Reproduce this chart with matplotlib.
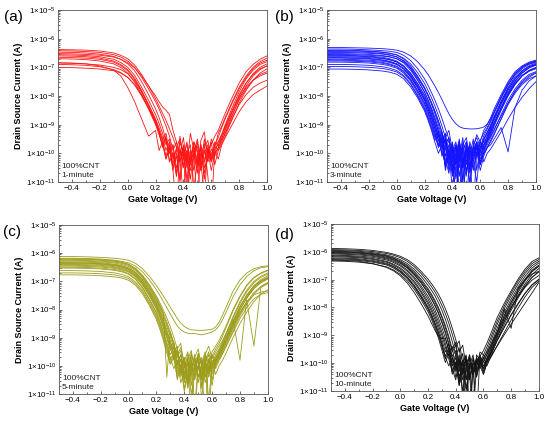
import numpy as np
import matplotlib
matplotlib.use('Agg')
import matplotlib.pyplot as plt
from matplotlib.ticker import FixedLocator, LogLocator, NullFormatter

plt.rcParams['font.family'] = ['Liberation Sans', 'DejaVu Sans']
plt.rcParams['mathtext.fontset'] = 'custom'
plt.rcParams['mathtext.rm'] = 'Liberation Sans'
plt.rcParams['mathtext.it'] = 'Liberation Sans'

# gate voltage sweep (V)
gate_v = [-0.5, -0.4, -0.3, -0.2, -0.1, -0.05, 0.0, 0.05, 0.1, 0.15, 0.2,
          0.225, 0.25, 0.275, 0.3, 0.325, 0.35, 0.375, 0.4, 0.425, 0.45,
          0.475, 0.5, 0.525, 0.55, 0.575, 0.6, 0.625, 0.65, 0.675, 0.7,
          0.75, 0.8, 0.85, 0.9, 0.95, 1.0]

# log10 of drain-source current (A)
logi_1min = [
    [-6.38,-6.39,-6.40,-6.43,-6.50,-6.58,-6.70,-6.92,-7.25,-7.65,-8.10,-8.35,-8.60,-8.85,-9.15,-9.45,-9.80,-9.50,-10.1,-9.70,-10.4,-9.60,-9.90,-10.6,-9.50,-10.0,-9.70,-9.40,-9.20,-8.90,-8.60,-8.05,-7.55,-7.15,-6.90,-6.72,-6.60],
    [-6.42,-6.43,-6.45,-6.48,-6.56,-6.64,-6.78,-7.00,-7.35,-7.75,-8.20,-8.45,-8.75,-9.05,-9.40,-9.90,-9.60,-10.3,-9.80,-11.2,-9.90,-10.2,-9.60,-10.5,-9.80,-9.55,-10.2,-9.70,-9.45,-9.10,-8.80,-8.25,-7.75,-7.35,-7.05,-6.85,-6.75],
    [-6.47,-6.48,-6.50,-6.54,-6.62,-6.72,-6.88,-7.12,-7.50,-7.95,-8.45,-8.75,-9.10,-9.55,-10.0,-9.70,-10.8,-9.40,-10.2,-9.90,-10.9,-10.0,-9.50,-10.3,-11.5,-9.80,-10.1,-9.60,-9.75,-9.35,-9.00,-8.40,-7.85,-7.40,-7.10,-6.90,-6.80],
    [-6.52,-6.53,-6.55,-6.58,-6.64,-6.72,-6.84,-7.02,-7.30,-7.65,-8.00,-8.20,-8.38,-8.50,-8.65,-9.20,-9.60,-10.0,-9.45,-10.4,-9.30,-9.90,-10.7,-9.55,-9.25,-10.2,-9.50,-9.80,-9.30,-9.05,-8.75,-8.20,-7.70,-7.30,-7.00,-6.80,-6.68],
    [-6.56,-6.57,-6.59,-6.63,-6.72,-6.83,-7.00,-7.28,-7.70,-8.15,-8.65,-8.95,-9.30,-9.70,-9.50,-10.2,-9.85,-11.0,-10.1,-9.60,-10.4,-9.90,-12.0,-9.70,-10.3,-9.90,-10.6,-10.0,-9.80,-9.50,-9.15,-8.55,-8.00,-7.55,-7.22,-7.00,-6.88],
    [-6.60,-6.61,-6.63,-6.68,-6.78,-6.90,-7.08,-7.38,-7.80,-8.30,-8.85,-9.20,-9.60,-10.1,-9.70,-10.6,-12.0,-9.90,-10.5,-10.0,-9.70,-11.2,-10.3,-9.80,-10.9,-10.0,-9.60,-10.4,-9.90,-9.60,-9.30,-8.70,-8.10,-7.65,-7.30,-7.08,-6.95],
    [-6.65,-6.66,-6.68,-6.72,-6.82,-6.94,-7.12,-7.42,-7.85,-8.35,-8.90,-9.25,-9.80,-9.40,-10.3,-9.95,-10.7,-9.60,-10.0,-12.0,-10.2,-9.70,-10.5,-10.1,-9.65,-10.8,-12.0,-9.90,-10.2,-9.70,-9.40,-8.80,-8.25,-7.80,-7.45,-7.20,-7.05],
    [-6.70,-6.71,-6.73,-6.78,-6.88,-7.00,-7.20,-7.52,-7.95,-8.45,-9.00,-9.35,-9.70,-10.2,-9.80,-10.5,-10.1,-10.9,-9.75,-10.3,-9.90,-10.6,-10.0,-12.0,-10.2,-9.80,-10.3,-9.95,-9.60,-9.35,-9.05,-8.50,-7.95,-7.55,-7.25,-7.05,-6.95],
    [-6.85,-6.86,-6.88,-6.92,-7.00,-7.08,-7.22,-7.48,-7.85,-8.30,-8.80,-9.10,-9.45,-9.90,-9.60,-10.4,-9.80,-10.2,-11.5,-9.90,-10.6,-10.0,-9.75,-10.4,-10.0,-9.70,-10.2,-9.85,-9.70,-9.45,-9.20,-8.65,-8.15,-7.75,-7.45,-7.25,-7.15],
    [-6.90,-6.91,-6.93,-6.98,-7.08,-7.18,-7.35,-7.62,-8.00,-8.45,-8.95,-9.30,-9.75,-9.50,-10.3,-10.0,-10.8,-9.85,-10.4,-10.1,-12.0,-9.90,-10.3,-9.70,-10.5,-10.2,-9.85,-10.1,-9.80,-9.55,-9.30,-8.80,-8.30,-7.95,-7.70,-7.55,-7.45],
    [-6.84,-6.85,-6.88,-6.95,-7.10,-7.30,-7.70,-8.20,-8.80,-9.40,-9.20,-9.90,-9.60,-10.2,-9.80,-10.6,-10.0,-10.3,-9.70,-10.5,-10.1,-9.80,-10.4,-10.0,-10.7,-9.90,-10.3,-9.70,-9.60,-9.35,-9.10,-8.55,-8.05,-7.70,-7.45,-7.30,-7.20],
    [-7.00,-7.01,-7.03,-7.06,-7.12,-7.20,-7.35,-7.60,-7.95,-8.40,-8.90,-9.20,-9.55,-9.30,-10.0,-9.70,-10.5,-10.1,-9.80,-10.9,-10.2,-9.60,-10.0,-10.6,-9.90,-10.3,-10.0,-9.75,-9.90,-9.70,-9.45,-9.00,-8.55,-8.20,-7.95,-7.80,-7.65],
]

logi_3min = [
    [-6.31,-6.31,-6.32,-6.33,-6.35,-6.37,-6.40,-6.47,-6.60,-6.80,-7.08,-7.25,-7.45,-7.66,-7.88,-8.12,-8.38,-8.62,-8.82,-8.97,-9.07,-9.12,-9.14,-9.15,-9.15,-9.14,-9.12,-9.08,-8.98,-8.80,-8.55,-8.02,-7.55,-7.20,-6.98,-6.85,-6.77],
    [-6.36,-6.36,-6.37,-6.39,-6.42,-6.44,-6.48,-6.58,-6.76,-7.04,-7.40,-7.62,-7.88,-8.15,-8.45,-8.78,-9.15,-9.50,-9.90,-9.60,-10.3,-9.70,-9.45,-10.1,-9.80,-9.35,-9.60,-9.20,-9.00,-8.75,-8.45,-7.95,-7.50,-7.15,-6.95,-6.82,-6.75],
    [-6.42,-6.42,-6.43,-6.45,-6.48,-6.51,-6.56,-6.68,-6.88,-7.18,-7.56,-7.80,-8.06,-8.35,-8.68,-9.05,-9.45,-9.20,-9.90,-10.4,-9.60,-10.0,-10.6,-9.85,-10.2,-9.70,-9.95,-9.50,-9.30,-9.05,-8.75,-8.20,-7.70,-7.32,-7.05,-6.90,-6.82],
    [-6.48,-6.48,-6.49,-6.51,-6.54,-6.58,-6.64,-6.77,-6.99,-7.31,-7.70,-7.95,-8.22,-8.52,-8.86,-9.25,-9.70,-9.45,-10.3,-9.70,-11.5,-9.90,-9.60,-10.5,-9.75,-10.1,-9.60,-9.85,-9.55,-9.25,-8.95,-8.40,-7.90,-7.50,-7.20,-7.02,-6.92],
    [-6.52,-6.52,-6.53,-6.55,-6.59,-6.63,-6.70,-6.85,-7.10,-7.45,-7.86,-8.12,-8.42,-8.75,-9.12,-9.55,-9.30,-10.2,-9.85,-12.0,-9.70,-10.3,-10.8,-9.60,-10.0,-9.75,-10.4,-9.70,-9.40,-9.10,-8.80,-8.25,-7.78,-7.40,-7.12,-6.95,-6.85],
    [-6.55,-6.55,-6.56,-6.58,-6.61,-6.64,-6.70,-6.82,-7.04,-7.36,-7.74,-7.98,-8.26,-8.56,-8.90,-9.28,-9.70,-9.45,-10.5,-9.85,-10.1,-9.45,-10.7,-10.0,-12.0,-9.90,-9.55,-9.30,-9.10,-8.85,-8.55,-8.05,-7.60,-7.25,-7.00,-6.88,-6.80],
    [-6.60,-6.60,-6.61,-6.63,-6.68,-6.73,-6.81,-6.98,-7.26,-7.64,-8.08,-8.36,-8.68,-9.05,-9.45,-9.25,-10.1,-9.70,-10.6,-10.0,-9.50,-11.0,-9.80,-10.2,-10.5,-10.0,-9.65,-9.90,-9.60,-9.35,-9.05,-8.50,-8.00,-7.60,-7.30,-7.12,-7.02],
    [-6.63,-6.63,-6.64,-6.66,-6.70,-6.74,-6.81,-6.96,-7.20,-7.55,-7.96,-8.22,-8.52,-8.86,-9.25,-9.70,-9.45,-10.3,-9.80,-10.6,-10.0,-12.0,-9.85,-10.4,-9.90,-9.60,-10.1,-9.75,-9.40,-9.15,-8.85,-8.30,-7.85,-7.48,-7.20,-7.02,-6.92],
    [-6.68,-6.68,-6.69,-6.71,-6.76,-6.81,-6.89,-7.06,-7.34,-7.72,-8.16,-8.45,-8.78,-9.15,-9.55,-9.35,-10.4,-9.90,-11.3,-10.1,-9.60,-10.5,-10.0,-11.0,-10.2,-9.80,-10.3,-9.95,-9.70,-9.45,-9.20,-8.65,-8.15,-7.75,-7.45,-7.25,-7.15],
    [-6.72,-6.72,-6.73,-6.75,-6.79,-6.83,-6.90,-7.05,-7.30,-7.66,-8.08,-8.35,-8.66,-9.00,-9.38,-9.80,-9.55,-10.2,-9.70,-10.8,-9.90,-10.4,-9.60,-10.1,-9.50,-10.6,-9.80,-9.50,-9.25,-9.00,-8.70,-8.18,-7.72,-7.38,-7.12,-6.98,-6.90],
    [-6.78,-6.78,-6.79,-6.81,-6.86,-6.91,-6.99,-7.16,-7.44,-7.82,-8.26,-8.55,-8.88,-9.26,-9.70,-9.45,-10.6,-10.0,-9.70,-10.9,-10.2,-9.80,-12.0,-9.90,-10.2,-9.70,-10.0,-9.75,-9.55,-9.30,-9.00,-8.45,-7.95,-7.58,-7.30,-7.12,-7.02],
    [-6.82,-6.82,-6.83,-6.85,-6.90,-6.95,-7.03,-7.20,-7.48,-7.88,-8.34,-8.64,-8.98,-9.38,-9.80,-9.55,-10.5,-9.90,-10.2,-11.5,-9.85,-10.3,-9.90,-10.7,-10.1,-9.80,-10.4,-10.0,-9.80,-9.55,-9.30,-8.80,-8.30,-7.90,-7.60,-7.40,-7.30],
    [-6.90,-6.90,-6.91,-6.93,-6.98,-7.03,-7.11,-7.28,-7.56,-7.96,-8.42,-8.72,-9.06,-9.45,-9.25,-9.95,-10.4,-9.80,-10.7,-10.0,-9.65,-10.3,-9.95,-10.6,-10.0,-9.70,-10.2,-9.90,-9.60,-9.40,-9.15,-8.70,-8.25,-7.85,-7.55,-7.35,-7.20],
    [-6.97,-6.97,-6.98,-7.00,-7.04,-7.09,-7.16,-7.32,-7.60,-8.00,-8.46,-8.78,-9.14,-9.55,-9.35,-10.1,-9.80,-10.6,-10.2,-9.75,-12.0,-10.3,-9.90,-10.5,-9.80,-10.1,-9.85,-10.3,-10.0,-9.85,-9.65,-9.25,-8.80,-8.40,-8.05,-7.75,-7.50],
    [-7.06,-7.06,-7.07,-7.09,-7.13,-7.17,-7.24,-7.40,-7.68,-8.06,-8.52,-8.84,-9.20,-9.62,-10.0,-9.70,-10.4,-9.90,-10.8,-10.2,-9.85,-10.5,-10.0,-9.70,-10.3,-9.95,-10.6,-10.1,-9.80,-9.60,-9.35,-8.80,-8.25,-7.82,-7.50,-7.30,-7.18],
    [-6.45,-6.45,-6.46,-6.48,-6.52,-6.56,-6.63,-6.78,-7.04,-7.42,-7.86,-8.14,-8.46,-8.82,-9.22,-9.65,-9.35,-10.1,-9.60,-10.4,-9.80,-11.0,-9.70,-10.2,-9.90,-9.60,-10.4,-10.0,-9.80,-9.70,-9.50,-9.10,-9.95,-8.40,-7.80,-7.48,-7.30],
    [-6.40,-6.40,-6.41,-6.43,-6.47,-6.51,-6.57,-6.71,-6.95,-7.30,-7.72,-7.98,-8.28,-8.62,-9.00,-9.42,-9.85,-9.55,-10.2,-9.75,-10.5,-9.60,-9.95,-11.2,-9.70,-9.45,-9.80,-9.40,-9.15,-8.90,-8.60,-8.08,-7.62,-7.25,-7.00,-6.86,-6.78],
    [-6.58,-6.58,-6.59,-6.61,-6.65,-6.70,-6.78,-6.94,-7.21,-7.58,-8.00,-8.28,-8.60,-8.96,-9.36,-9.80,-9.50,-10.4,-10.0,-9.70,-10.8,-9.90,-10.3,-9.75,-10.1,-9.60,-9.90,-9.55,-9.30,-9.05,-8.78,-8.25,-7.78,-7.42,-7.15,-6.98,-6.88],
    [-6.66,-6.66,-6.67,-6.69,-6.74,-6.79,-6.87,-7.04,-7.32,-7.70,-8.14,-8.43,-8.76,-9.14,-9.56,-10.0,-9.70,-10.5,-9.85,-12.0,-10.1,-9.75,-10.4,-9.90,-10.6,-10.0,-9.80,-9.60,-9.45,-9.20,-8.95,-8.42,-7.95,-7.58,-7.30,-7.14,-7.05],
    [-6.75,-6.75,-6.76,-6.78,-6.83,-6.88,-6.96,-7.13,-7.41,-7.80,-8.25,-8.55,-8.90,-9.30,-9.75,-9.45,-10.2,-10.7,-9.90,-10.3,-9.70,-10.5,-10.0,-9.80,-10.3,-11.0,-9.90,-9.70,-9.50,-9.22,-8.95,-8.40,-7.92,-7.55,-7.28,-7.10,-7.00],
]

logi_5min = [
    [-6.12,-6.12,-6.13,-6.15,-6.18,-6.21,-6.25,-6.36,-6.55,-6.82,-7.15,-7.33,-7.52,-7.72,-7.92,-8.12,-8.32,-8.48,-8.60,-8.68,-8.72,-8.73,-8.74,-8.74,-8.73,-8.72,-8.70,-8.62,-8.45,-8.20,-7.92,-7.35,-6.95,-6.70,-6.55,-6.48,-6.45],
    [-6.18,-6.18,-6.19,-6.21,-6.25,-6.29,-6.34,-6.46,-6.66,-6.95,-7.30,-7.50,-7.72,-7.94,-8.16,-8.38,-8.58,-8.72,-8.80,-8.84,-8.86,-8.85,-8.88,-8.90,-8.87,-8.84,-8.80,-8.72,-8.58,-8.36,-8.10,-7.55,-7.12,-6.82,-6.62,-6.52,-6.48],
    [-6.22,-6.22,-6.23,-6.25,-6.29,-6.33,-6.40,-6.54,-6.78,-7.12,-7.52,-7.76,-8.02,-8.30,-8.62,-8.98,-9.40,-9.20,-10.1,-9.60,-9.85,-10.4,-9.55,-9.90,-9.50,-10.2,-9.65,-9.40,-9.20,-8.95,-8.65,-8.05,-7.55,-7.15,-6.88,-6.72,-6.62],
    [-6.25,-6.25,-6.26,-6.28,-6.32,-6.36,-6.43,-6.58,-6.84,-7.20,-7.62,-7.88,-8.16,-10.4,-8.80,-9.20,-9.95,-9.60,-10.5,-9.80,-9.45,-10.2,-9.70,-10.8,-9.60,-9.90,-9.50,-9.30,-9.10,-8.85,-8.58,-8.00,-7.52,-7.12,-6.86,-6.70,-6.60],
    [-6.28,-6.28,-6.29,-6.31,-6.35,-6.40,-6.47,-6.62,-6.88,-7.24,-7.66,-7.92,-8.20,-8.52,-8.86,-9.25,-9.70,-9.45,-10.3,-9.75,-12.0,-9.90,-9.60,-10.4,-9.85,-9.50,-10.0,-9.70,-9.45,-9.20,-8.90,-8.30,-7.78,-7.36,-7.05,-6.86,-6.74],
    [-6.31,-6.31,-6.32,-6.34,-6.39,-6.44,-6.52,-6.68,-6.96,-7.34,-7.78,-8.06,-8.38,-8.72,-9.10,-9.55,-9.30,-10.2,-9.80,-10.6,-9.55,-10.0,-9.70,-11.2,-9.90,-10.3,-9.60,-9.85,-9.55,-9.30,-9.02,-8.45,-7.92,-7.48,-7.15,-6.94,-6.80],
    [-6.34,-6.34,-6.35,-6.37,-6.41,-6.46,-6.53,-6.68,-6.94,-7.30,-7.72,-7.99,-8.28,-8.60,-8.96,-9.38,-9.85,-9.60,-10.4,-9.85,-10.1,-9.60,-10.6,-10.0,-9.70,-12.0,-9.95,-9.60,-9.40,-9.15,-8.85,-8.25,-7.72,-7.30,-7.00,-6.82,-6.70],
    [-6.37,-6.37,-6.38,-6.40,-6.45,-6.50,-6.58,-6.75,-7.03,-7.42,-7.86,-8.14,-8.46,-8.82,-9.22,-9.70,-9.45,-10.4,-10.0,-9.70,-10.7,-10.1,-9.80,-10.3,-9.90,-9.60,-10.5,-9.90,-9.65,-9.40,-9.12,-8.55,-8.02,-7.58,-7.25,-7.04,-6.90],
    [-6.40,-6.40,-6.41,-6.43,-6.48,-6.53,-6.61,-6.78,-7.06,-7.45,-7.90,-8.20,-8.54,-8.92,-9.35,-9.15,-10.0,-9.75,-10.6,-10.1,-9.60,-11.5,-9.90,-10.2,-9.70,-10.4,-10.0,-9.75,-9.55,-9.30,-9.02,-8.45,-7.92,-7.50,-7.18,-6.98,-6.85],
    [-6.43,-6.43,-6.44,-6.46,-6.51,-6.56,-6.64,-6.81,-7.10,-7.50,-7.95,-8.25,-8.58,-8.95,-9.36,-9.80,-9.55,-10.3,-9.85,-10.8,-10.2,-9.70,-10.4,-9.95,-12.0,-9.80,-10.2,-9.85,-9.60,-9.35,-9.08,-8.52,-8.00,-7.58,-7.26,-7.05,-6.92],
    [-6.46,-6.46,-6.47,-6.49,-6.54,-6.59,-6.67,-6.84,-7.12,-7.52,-7.98,-8.29,-8.64,-9.02,-9.45,-9.25,-10.1,-9.80,-10.5,-9.90,-10.3,-10.0,-9.70,-10.7,-10.2,-9.85,-9.60,-10.1,-9.80,-9.55,-9.30,-8.75,-8.22,-7.80,-7.46,-7.22,-7.08],
    [-6.50,-6.50,-6.51,-6.53,-6.58,-6.63,-6.72,-6.90,-7.20,-7.62,-8.08,-8.40,-8.76,-9.16,-9.60,-9.35,-10.2,-9.95,-10.9,-10.3,-9.80,-10.5,-10.1,-9.70,-10.4,-10.0,-10.7,-9.90,-9.70,-9.45,-9.20,-8.65,-8.15,-7.72,-7.40,-7.18,-7.04],
    [-6.53,-6.53,-6.54,-6.56,-6.61,-6.66,-6.75,-6.93,-7.24,-7.66,-8.14,-8.46,-8.84,-9.25,-9.70,-10.1,-9.80,-10.6,-10.2,-9.85,-11.0,-10.3,-10.0,-10.5,-9.90,-10.2,-9.85,-10.3,-10.0,-9.80,-9.55,-9.00,-8.50,-8.08,-7.72,-7.45,-7.30],
    [-6.62,-6.62,-6.63,-6.65,-6.70,-6.75,-6.84,-7.02,-7.32,-7.74,-8.22,-8.54,-8.92,-9.35,-9.80,-9.50,-10.3,-10.0,-9.70,-10.6,-10.1,-9.80,-10.4,-10.0,-9.75,-11.2,-10.0,-9.70,-9.50,-9.25,-8.98,-8.40,-7.88,-7.48,-7.18,-7.00,-6.88],
    [-6.70,-6.70,-6.71,-6.73,-6.77,-6.82,-6.90,-7.08,-7.38,-7.80,-8.28,-8.62,-9.02,-9.45,-9.90,-9.60,-10.5,-10.0,-10.8,-10.2,-9.90,-10.4,-10.0,-9.80,-10.6,-10.1,-9.80,-10.0,-9.80,-9.58,-9.32,-8.82,-8.32,-7.92,-7.62,-7.46,-7.40],
    [-6.77,-6.77,-6.78,-6.80,-6.84,-6.88,-6.96,-7.14,-7.44,-7.86,-8.36,-8.70,-9.10,-9.55,-9.95,-9.70,-10.4,-10.1,-9.80,-10.7,-10.2,-12.0,-10.0,-10.4,-10.1,-9.85,-10.3,-9.95,-9.72,-9.48,-9.20,-8.65,-8.12,-7.72,-7.48,-7.38,-7.34],
    [-6.20,-6.20,-6.21,-6.23,-6.27,-6.32,-6.39,-6.54,-6.80,-7.16,-7.58,-7.84,-8.12,-8.44,-8.80,-9.20,-9.60,-9.35,-9.85,-9.50,-10.2,-9.70,-9.40,-10.0,-9.60,-9.30,-9.75,-9.50,-9.30,-9.10,-8.85,-8.35,-9.80,-7.55,-7.20,-6.98,-6.88],
    [-6.35,-6.35,-6.36,-6.38,-6.43,-6.48,-6.56,-6.72,-7.00,-7.38,-7.82,-8.10,-8.42,-8.78,-9.18,-9.62,-9.40,-10.1,-9.70,-10.5,-9.95,-10.2,-9.65,-10.0,-10.4,-9.75,-10.1,-9.80,-9.58,-9.35,-9.10,-8.58,-8.10,-7.72,-9.30,-7.20,-7.06],
]

logi_10min = [
    [-5.88,-5.89,-5.91,-5.95,-6.02,-6.08,-6.16,-6.28,-6.46,-6.70,-6.98,-7.14,-7.32,-7.52,-7.76,-8.04,-8.36,-8.74,-9.15,-9.60,-9.35,-10.1,-9.70,-10.4,-9.90,-9.75,-9.55,-9.28,-8.98,-8.66,-8.35,-7.85,-7.40,-6.98,-6.62,-6.35,-6.22],
    [-5.92,-5.93,-5.95,-5.99,-6.06,-6.12,-6.21,-6.34,-6.53,-6.78,-7.08,-7.25,-7.44,-7.66,-7.92,-8.22,-8.56,-8.96,-9.40,-9.20,-10.0,-9.70,-12.0,-9.80,-10.2,-9.60,-9.70,-9.42,-9.12,-8.80,-8.48,-7.95,-7.48,-7.05,-6.70,-6.42,-6.28],
    [-5.95,-5.96,-5.98,-6.03,-6.11,-6.18,-6.28,-6.42,-6.62,-6.88,-7.20,-7.38,-7.58,-7.82,-8.10,-8.42,-8.80,-9.22,-9.70,-9.45,-10.4,-9.80,-10.1,-11.5,-9.70,-9.90,-9.85,-9.55,-9.25,-8.92,-8.60,-8.05,-7.58,-7.15,-6.78,-6.50,-6.34],
    [-5.98,-5.99,-6.01,-6.06,-6.14,-6.22,-6.33,-6.48,-6.70,-6.98,-7.32,-7.52,-7.74,-8.00,-8.30,-8.64,-9.04,-9.50,-9.25,-10.1,-9.65,-10.6,-9.90,-10.2,-12.0,-9.75,-9.95,-9.68,-9.38,-9.06,-8.74,-8.18,-7.70,-7.26,-6.88,-6.58,-6.40],
    [-6.00,-6.01,-6.03,-6.08,-6.16,-6.24,-6.36,-6.52,-6.75,-7.04,-7.38,-7.58,-7.80,-8.06,-8.36,-8.72,-9.12,-9.60,-9.35,-10.3,-9.90,-11.0,-10.1,-9.70,-10.5,-9.85,-10.1,-9.80,-9.50,-9.18,-8.85,-8.28,-7.80,-7.36,-6.98,-6.66,-6.48],
    [-6.02,-6.03,-6.05,-6.10,-6.19,-6.27,-6.39,-6.56,-6.80,-7.10,-7.46,-7.67,-7.90,-8.18,-8.50,-8.86,-9.28,-9.75,-9.55,-10.5,-10.0,-9.75,-12.0,-10.3,-9.80,-10.0,-9.70,-9.90,-9.62,-9.30,-8.98,-8.40,-7.90,-7.45,-7.05,-6.72,-6.52],
    [-6.05,-6.06,-6.08,-6.13,-6.22,-6.30,-6.42,-6.58,-6.82,-7.12,-7.48,-7.70,-7.94,-8.22,-8.54,-8.92,-9.35,-9.80,-10.2,-9.85,-10.6,-10.1,-9.80,-10.4,-10.0,-9.70,-10.2,-9.85,-9.55,-9.22,-8.90,-8.32,-7.82,-7.38,-7.00,-6.70,-6.50],
    [-6.08,-6.09,-6.11,-6.16,-6.25,-6.34,-6.47,-6.65,-6.90,-7.22,-7.60,-7.83,-8.08,-8.38,-8.72,-9.10,-9.55,-10.0,-9.70,-10.7,-10.2,-9.85,-10.5,-10.0,-10.3,-9.90,-10.4,-10.0,-9.70,-9.38,-9.05,-8.50,-8.00,-7.55,-7.15,-6.82,-6.60],
    [-6.12,-6.13,-6.15,-6.20,-6.29,-6.38,-6.51,-6.70,-6.96,-7.30,-7.70,-7.94,-8.20,-8.52,-8.88,-9.28,-9.75,-9.40,-10.3,-9.90,-11.2,-10.2,-9.70,-10.5,-9.95,-10.2,-9.80,-10.1,-9.80,-9.48,-9.15,-8.60,-8.10,-7.66,-7.25,-6.92,-6.70],
    [-6.15,-6.16,-6.18,-6.24,-6.34,-6.44,-6.58,-6.78,-7.05,-7.40,-7.80,-8.05,-8.32,-8.64,-9.00,-9.42,-9.85,-10.3,-9.95,-10.8,-10.2,-9.80,-10.4,-12.0,-10.1,-9.75,-10.3,-9.95,-9.65,-9.35,-9.04,-8.50,-8.02,-7.60,-7.22,-6.92,-6.72],
    [-6.18,-6.19,-6.21,-6.27,-6.37,-6.47,-6.62,-6.83,-7.11,-7.46,-7.88,-8.13,-8.42,-8.76,-9.15,-9.60,-9.30,-10.1,-9.80,-10.6,-10.0,-10.9,-10.2,-9.85,-10.5,-10.0,-10.2,-9.90,-9.70,-9.45,-9.18,-8.70,-8.25,-7.85,-7.48,-7.18,-6.98],
    [-6.22,-6.23,-6.25,-6.31,-6.41,-6.52,-6.68,-6.90,-7.20,-7.56,-7.98,-8.24,-8.54,-8.88,-9.28,-9.75,-9.45,-10.2,-10.6,-9.90,-10.3,-11.5,-10.1,-10.4,-9.90,-10.1,-10.4,-10.0,-9.82,-9.60,-9.35,-8.90,-8.45,-8.02,-7.62,-7.28,-7.05],
    [-6.28,-6.29,-6.31,-6.37,-6.47,-6.58,-6.74,-6.96,-7.26,-7.64,-8.06,-8.34,-8.64,-9.00,-9.40,-9.85,-9.55,-10.3,-10.0,-10.8,-10.2,-9.85,-10.6,-10.1,-10.4,-9.95,-10.2,-9.85,-9.65,-9.42,-9.18,-8.72,-8.28,-7.88,-7.50,-7.20,-7.00],
    [-6.33,-6.34,-6.37,-6.43,-6.54,-6.65,-6.81,-7.04,-7.34,-7.72,-8.15,-8.42,-8.74,-9.10,-9.52,-9.98,-9.65,-10.4,-10.1,-9.80,-11.0,-10.2,-10.5,-10.0,-10.3,-9.90,-10.0,-9.92,-9.78,-9.58,-9.38,-8.98,-8.60,-8.22,-7.85,-7.48,-7.10],
    [-6.30,-6.31,-6.34,-6.42,-6.56,-6.68,-6.86,-7.12,-7.46,-7.86,-8.30,-8.56,-8.82,-9.02,-9.12,-9.10,-9.50,-9.80,-10.2,-9.70,-10.4,-10.0,-9.85,-10.3,-9.90,-10.1,-9.80,-9.60,-9.38,-9.12,-8.88,-8.40,-7.98,-7.60,-7.28,-7.02,-6.85],
    [-6.25,-6.26,-6.28,-6.34,-6.44,-6.54,-6.70,-6.92,-7.22,-7.60,-8.02,-8.28,-8.58,-8.92,-9.32,-9.78,-10.1,-9.80,-10.5,-10.2,-9.90,-10.6,-10.0,-10.3,-9.85,-10.0,-9.95,-9.70,-9.45,-9.18,-8.92,-8.05,-8.75,-7.30,-7.00,-6.80,-6.70],
]

panel_tags = ['(a)', '(b)', '(c)', '(d)']
anneal_times = ['1-minute', '3-minute', '5-minute', '10-minute']
line_colors = ['#ff1414', '#1414ff', '#9c9c1a', '#141414']
all_curves = [logi_1min, logi_3min, logi_5min, logi_10min]

# axes boxes in figure fraction [left, bottom, width, height]
boxes = [
    [0.1055, 0.5718, 0.380, 0.4047],
    [0.5945, 0.5718, 0.380, 0.4047],
    [0.1070, 0.0729, 0.380, 0.3977],
    [0.6018, 0.0800, 0.378, 0.3930],
]
tag_pos = [(0.008, 0.960), (0.500, 0.960), (0.006, 0.455), (0.500, 0.448)]

fig = plt.figure(figsize=(5.5, 4.25), dpi=100)

ytick_vals = [1e-11, 1e-10, 1e-9, 1e-8, 1e-7, 1e-6, 1e-5]
ytick_txt = [r'$1{\times}10^{-%d}$' % e for e in range(11, 4, -1)]
xtick_vals = [-0.4, -0.2, 0.0, 0.2, 0.4, 0.6, 0.8, 1.0]

for k in range(4):
    ax = fig.add_axes(boxes[k])
    v = np.array(gate_v)
    for c in all_curves[k]:
        ax.plot(v, 10.0 ** np.array(c), color=line_colors[k], lw=0.6)
    ax.set_yscale('log')
    ax.set_xlim(-0.5, 1.0)
    ax.set_ylim(1e-11, 1e-5)
    ax.set_yticks(ytick_vals)
    ax.set_yticklabels(ytick_txt)
    ax.yaxis.set_minor_locator(LogLocator(base=10, subs=np.arange(2, 10)))
    ax.yaxis.set_minor_formatter(NullFormatter())
    ax.set_xticks(xtick_vals)
    ax.set_xticklabels(['\u22120.4', '\u22120.2', '0.0', '0.2', '0.4', '0.6', '0.8', '1.0'])
    ax.xaxis.set_minor_locator(FixedLocator([-0.5, -0.3, -0.1, 0.1, 0.3, 0.5, 0.7, 0.9]))
    ax.tick_params(which='both', direction='in', labelsize=5.8, pad=2,
                   width=0.5, color='#333333')
    ax.tick_params(which='major', length=2.5)
    ax.tick_params(which='minor', length=1.3)
    for s in ax.spines.values():
        s.set_linewidth(0.6)
        s.set_color('#555555')
    ax.set_xlabel('Gate Voltage (V)', fontsize=6.5, fontweight='bold', labelpad=2)
    ax.set_ylabel('Drain Source Current (A)', fontsize=6.5, fontweight='bold', labelpad=2)
    ax.text(0.015, 0.02, '100%CNT\n' + anneal_times[k], transform=ax.transAxes,
            fontsize=6, ha='left', va='bottom', linespacing=1.4, color='#222222')
    fig.text(tag_pos[k][0], tag_pos[k][1], panel_tags[k], fontsize=11,
             ha='left', va='center')

fig.savefig('out.png', dpi=100)
